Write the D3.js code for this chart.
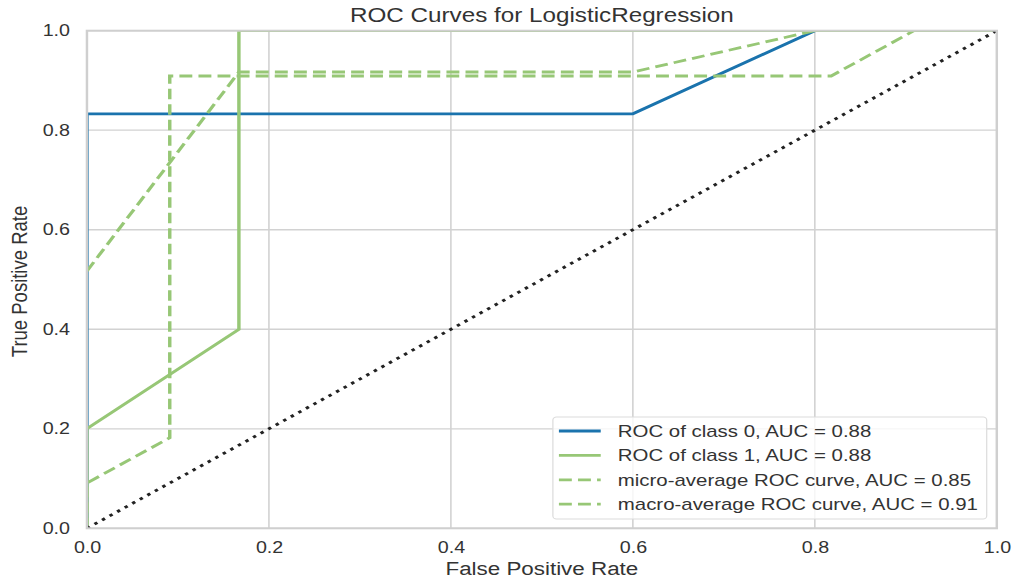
<!DOCTYPE html>
<html>
<head>
<meta charset="utf-8">
<script src="https://cdn.jsdelivr.net/npm/d3@7"></script>
<style>
  html, body { margin: 0; padding: 0; background: #fff; }
  svg { display: block; }
  text { font-family: "Liberation Sans", Arial, Helvetica, sans-serif; fill: #333; }
</style>
</head>
<body>
<div id="chart"></div>
<script>
// ROC curve points (false positive rate / true positive rate)
const class0Fpr = [0, 0, 0.6, 0.8, 1.0];
const class0Tpr = [0, 0.833, 0.833, 1.0, 1.0];

const class1Fpr = [0, 0, 0.167, 0.167, 1.0];
const class1Tpr = [0, 0.2, 0.4, 1.0, 1.0];

const microFpr = [0, 0, 0.091, 0.091, 0.818, 0.909, 1.0];
const microTpr = [0, 0.091, 0.182, 0.909, 0.909, 1.0, 1.0];

const macroFpr = [0, 0.167, 0.6, 0.8, 1.0];
const macroTpr = [0.517, 0.917, 0.917, 1.0, 1.0];

const chanceFpr = [0, 1];
const chanceTpr = [0, 1];

const legendLabels = [
  "ROC of class 0, AUC = 0.88",
  "ROC of class 1, AUC = 0.88",
  "micro-average ROC curve, AUC = 0.85",
  "macro-average ROC curve, AUC = 0.91"
];

const xTicks = [0, 0.2, 0.4, 0.6, 0.8, 1.0];
const yTicks = [0, 0.2, 0.4, 0.6, 0.8, 1.0];

const BLUE = "#1a73ad";
const GREEN = "#97c776";

// Page size and a drawing space that is widened horizontally to fill it
const W = 1015, H = 580, STRETCH = 1.23;
const VW = W / STRETCH;

const plot = { left: 70.7, right: 810.4, top: 30.7, bottom: 528.3 };

const svg = d3.select("#chart").append("svg")
  .attr("width", W).attr("height", H)
  .attr("viewBox", `0 0 ${VW} ${H}`)
  .attr("preserveAspectRatio", "none");

const x = d3.scaleLinear().domain([0, 1]).range([plot.left, plot.right]);
const y = d3.scaleLinear().domain([0, 1]).range([plot.bottom, plot.top]);

// Grid lines
const grid = svg.append("g");
grid.selectAll(".gx").data(xTicks).join("line")
  .attr("x1", d => x(d)).attr("x2", d => x(d))
  .attr("y1", plot.top).attr("y2", plot.bottom)
  .attr("stroke", "#d2d2d2").attr("stroke-width", 1.3);
grid.selectAll(".gy").data(yTicks).join("line")
  .attr("x1", plot.left).attr("x2", plot.right)
  .attr("y1", d => y(d)).attr("y2", d => y(d))
  .attr("stroke", "#d2d2d2").attr("stroke-width", 1.3);

// Clip curves to the plotting area
svg.append("clipPath").attr("id", "plot-clip")
  .append("rect")
  .attr("x", plot.left).attr("y", plot.top)
  .attr("width", plot.right - plot.left).attr("height", plot.bottom - plot.top);

const line = d3.line().x(d => x(d[0])).y(d => y(d[1]));
const pts = (fx, ty) => fx.map((v, i) => [v, ty[i]]);

const curves = [
  { data: pts(class0Fpr, class0Tpr), color: BLUE, dash: null },
  { data: pts(class1Fpr, class1Tpr), color: GREEN, dash: null },
  { data: pts(microFpr, microTpr), color: GREEN, dash: "10.5,5" },
  { data: pts(macroFpr, macroTpr), color: GREEN, dash: "10.5,5" }
];

const curveG = svg.append("g").attr("clip-path", "url(#plot-clip)");
curves.forEach(c => {
  curveG.append("path")
    .datum(c.data)
    .attr("d", line)
    .attr("fill", "none")
    .attr("stroke", c.color)
    .attr("stroke-width", 2.8)
    .attr("stroke-linejoin", "miter")
    .attr("stroke-dasharray", c.dash);
});

// Chance diagonal
curveG.append("path")
  .datum(pts(chanceFpr, chanceTpr))
  .attr("d", line)
  .attr("fill", "none")
  .attr("stroke", "#222")
  .attr("stroke-width", 2.8)
  .attr("stroke-dasharray", "2.8,4.6");

// Frame
svg.append("rect")
  .attr("x", plot.left).attr("y", plot.top)
  .attr("width", plot.right - plot.left).attr("height", plot.bottom - plot.top)
  .attr("fill", "none").attr("stroke", "#cfcfcf").attr("stroke-width", 2);

// Axes (labels only)
const xAxis = svg.append("g")
  .attr("transform", `translate(0,${plot.bottom})`)
  .call(d3.axisBottom(x).tickValues(xTicks).tickSize(0).tickPadding(13)
    .tickFormat(d3.format(".1f")));
const yAxis = svg.append("g")
  .attr("transform", `translate(${plot.left},0)`)
  .call(d3.axisLeft(y).tickValues(yTicks).tickSize(0).tickPadding(13.8)
    .tickFormat(d3.format(".1f")));
[xAxis, yAxis].forEach(a => {
  a.select(".domain").remove();
  a.selectAll("text")
    .attr("fill", "#333")
    .style("font-size", "16px")
    .style("font-family", '"Liberation Sans", Arial, sans-serif');
});

// Titles
svg.append("text")
  .attr("x", (plot.left + plot.right) / 2).attr("y", 21.7)
  .attr("text-anchor", "middle")
  .style("font-size", "19.7px")
  .text("ROC Curves for LogisticRegression");

svg.append("text")
  .attr("x", (plot.left + plot.right) / 2).attr("y", 575.5)
  .attr("text-anchor", "middle")
  .style("font-size", "18.2px")
  .text("False Positive Rate");

svg.append("text")
  .attr("transform", `translate(21.7,${(plot.top + plot.bottom) / 2 + 2}) rotate(-90)`)
  .attr("text-anchor", "middle")
  .style("font-size", "18.5px")
  .text("True Positive Rate");

// Legend
const legend = svg.append("g");
legend.append("rect")
  .attr("x", 449.5).attr("y", 417)
  .attr("width", 352.7).attr("height", 102)
  .attr("rx", 3).attr("ry", 3)
  .attr("fill", "#fff").attr("fill-opacity", 0.8)
  .attr("stroke", "#dcdcdc").attr("stroke-width", 1);

const rows = legend.selectAll(".row").data(curves).join("g")
  .attr("transform", (d, i) => `translate(0,${431 + i * 24.4})`);
rows.append("line")
  .attr("x1", 454.4).attr("x2", 488.4)
  .attr("y1", 0).attr("y2", 0)
  .attr("stroke", d => d.color)
  .attr("stroke-width", 2.8)
  .attr("stroke-dasharray", d => d.dash);
rows.append("text")
  .attr("x", 502.3).attr("y", 0).attr("dy", "0.35em")
  .style("font-size", "16.6px")
  .text((d, i) => legendLabels[i]);
</script>
</body>
</html>
